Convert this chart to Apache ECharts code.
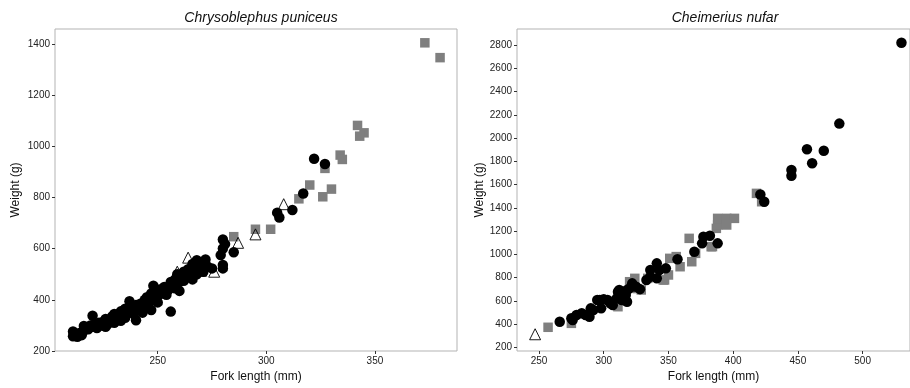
<!DOCTYPE html>
<html>
<head>
<meta charset="utf-8">
<script src="https://cdn.jsdelivr.net/npm/echarts@6/dist/echarts.min.js"></script>
<style>
  html, body { margin: 0; padding: 0; background: #fff; }
  #chart { width: 910px; height: 388px; }
</style>
</head>
<body>
<div id="chart"></div>
<script>
// Chrysoblephus puniceus (left panel)
const leftCircles = [
  [211, 276], [211, 258], [213, 256], [212, 265], [214, 270], [215, 262], [216, 280], [217, 290],
  [216, 298], [218, 285], [219, 300], [220, 295], [221, 305], [222, 290], [220, 338], [223, 310],
  [224, 300], [225, 315], [226, 325], [226, 295], [227, 305], [228, 320], [229, 335], [230, 310],
  [230, 345], [231, 325], [232, 340], [233, 355], [233, 318], [234, 345], [235, 365], [235, 330],
  [236, 350], [237, 372], [237, 395], [238, 360], [239, 345], [240, 380], [240, 320], [241, 365],
  [242, 385], [243, 350], [244, 400], [245, 370], [245, 410], [246, 390], [247, 360], [247, 425],
  [248, 455], [248, 405], [249, 435], [250, 415], [250, 390], [251, 440], [252, 425], [253, 450],
  [254, 420], [255, 440], [256, 470], [256, 354], [257, 455], [258, 480], [258, 445], [259, 500],
  [260, 470], [260, 435], [261, 490], [262, 510], [262, 475], [263, 495], [264, 520], [265, 500],
  [266, 480], [266, 540], [267, 515], [268, 555], [268, 500], [269, 530], [270, 545], [271, 510],
  [272, 558], [273, 530], [275, 523], [280, 636], [281, 618], [280, 601], [279, 575], [280, 536],
  [280, 523], [285, 586], [305, 741], [306, 722], [312, 751], [317, 816], [322, 952], [327, 931]
];
const leftSquares = [
  [373, 1405], [380, 1347], [342, 1082], [345, 1053], [343, 1040], [334, 966], [335, 949],
  [327, 914], [320, 849], [330, 833], [326, 803], [315, 795], [302, 676], [295, 676], [285, 647]
];
const leftTriangles = [
  [308, 774], [295, 656], [287, 623], [264, 565], [265, 530], [259, 510], [270, 514], [276, 510]
];

// Cheimerius nufar (right panel)
const rightCircles = [
  [530, 2820], [482, 2124], [457, 1903], [470, 1891], [461, 1783], [445, 1725], [445, 1676],
  [421, 1515], [424, 1452], [388, 1094], [382, 1160], [377, 1151], [376, 1094], [370, 1022],
  [357, 957], [348, 879], [341, 922], [343, 865], [336, 865], [341, 793], [336, 807], [333, 779],
  [325, 721], [320, 707], [317, 650], [318, 592], [314, 607], [311, 678], [307, 564], [303, 607],
  [298, 535], [297, 607], [292, 521], [289, 463], [283, 492], [279, 478], [275, 449], [276, 435],
  [266, 420], [300, 613], [295, 607], [305, 578], [310, 621], [315, 621], [312, 693], [318, 693],
  [322, 750], [328, 700], [286, 478], [290, 535]
];
const rightSquares = [
  [257, 372], [275, 406], [310, 564], [311, 549], [320, 764], [324, 793], [329, 693], [334, 793],
  [346, 779], [347, 779], [350, 822], [351, 965], [359, 893], [356, 980], [366, 1137], [368, 936],
  [371, 1008], [383, 1065], [384, 1066], [387, 1223], [388, 1252], [388, 1309], [395, 1309],
  [401, 1309], [395, 1252], [418, 1524], [422, 1452], [326, 705], [313, 600]
];
const rightTriangles = [[247, 312]];

const leftXTicks = [250, 300, 350];
const leftYTicks = [200, 400, 600, 800, 1000, 1200, 1400];
const rightXTicks = [250, 300, 350, 400, 450, 500];
const rightYTicks = [200, 400, 600, 800, 1000, 1200, 1400, 1600, 1800, 2000, 2200, 2400, 2600, 2800];

const FONT = "Liberation Sans, Arial, sans-serif";

function axis(idx, min, max, ticks, name, gap) {
  return {
    type: "value",
    gridIndex: idx,
    min: min,
    max: max,
    name: name,
    nameLocation: "middle",
    nameGap: gap,
    nameTextStyle: { fontFamily: FONT, fontSize: 12, color: "#111" },
    axisLine: { show: false },
    axisTick: { show: true, length: 3, customValues: ticks, lineStyle: { color: "#333" } },
    axisLabel: {
      customValues: ticks, fontFamily: FONT, fontSize: 10, color: "#222", margin: 5,
      formatter: (v) => String(v)
    },
    splitLine: { show: false }
  };
}

function pts(data, idx, symbol, size, style) {
  return {
    type: "scatter",
    xAxisIndex: idx,
    yAxisIndex: idx,
    symbol: symbol,
    symbolSize: size,
    itemStyle: Object.assign({ opacity: 1 }, style),
    silent: true,
    data: data
  };
}

const circleStyle = { color: "#000" };
const squareStyle = { color: "#7f7f7f" };
const triStyle = { color: "rgba(0,0,0,0)", borderColor: "#000", borderWidth: 0.9 };

const chart = echarts.init(document.getElementById("chart"), null, { renderer: "canvas" });
chart.setOption({
  animation: false,
  backgroundColor: "#fff",
  title: [
    { text: "Chrysoblephus puniceus", left: 256, top: 6, textAlign: "center",
      textStyle: { fontFamily: FONT, fontSize: 14, fontStyle: "italic", fontWeight: "normal", color: "#111" } },
    { text: "Cheimerius nufar", left: 720, top: 6, textAlign: "center",
      textStyle: { fontFamily: FONT, fontSize: 14, fontStyle: "italic", fontWeight: "normal", color: "#111" } }
  ],
  grid: [
    { left: 55, top: 29, width: 402, height: 322, show: true, borderColor: "#b3b3b3", borderWidth: 1, backgroundColor: "transparent" },
    { left: 517, top: 29, width: 393, height: 322, show: true, borderColor: "#b3b3b3", borderWidth: 1, backgroundColor: "transparent" }
  ],
  xAxis: [
    axis(0, 202.7, 387.8, leftXTicks, "Fork length (mm)", 18),
    axis(1, 233, 536.6, rightXTicks, "Fork length (mm)", 18)
  ],
  yAxis: [
    axis(0, 200, 1459, leftYTicks, "Weight (g)", 33),
    axis(1, 168, 2938, rightYTicks, "Weight (g)", 31)
  ],
  series: [
    pts(leftSquares, 0, "rect", 9.5, squareStyle),
    pts(leftCircles, 0, "circle", 10.5, circleStyle),
    pts(leftTriangles, 0, "triangle", 11, triStyle),
    pts(rightSquares, 1, "rect", 9.5, squareStyle),
    pts(rightCircles, 1, "circle", 10.5, circleStyle),
    pts(rightTriangles, 1, "triangle", 11, triStyle)
  ]
});
</script>
</body>
</html>
